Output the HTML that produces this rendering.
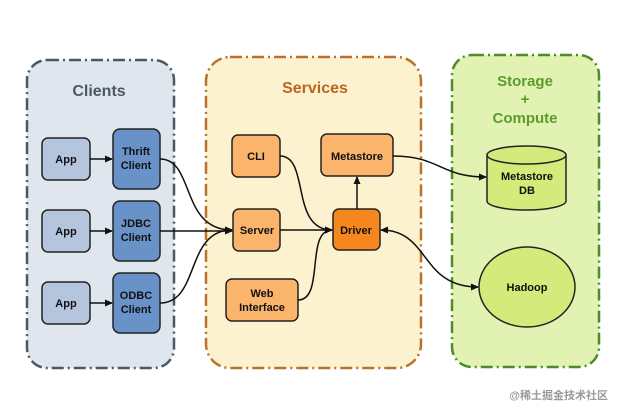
<!DOCTYPE html>
<html><head><style>body{margin:0;background:#fff}svg{display:block}text{font-family:"Liberation Sans","Noto Sans CJK SC",sans-serif;font-weight:bold}</style></head><body>
<svg width="621" height="414" viewBox="0 0 621 414">
<defs><marker id="a" markerWidth="8" markerHeight="8" refX="7" refY="4" orient="auto" markerUnits="userSpaceOnUse"><path d="M0,0.5L8,4L0,7.5z" fill="#111"/></marker>
<marker id="b" markerWidth="8" markerHeight="8" refX="1" refY="4" orient="auto" markerUnits="userSpaceOnUse"><path d="M8,0.5L0,4L8,7.5z" fill="#111"/></marker></defs>
<rect x="27" y="60" width="147" height="308" rx="20" fill="#dfe6ee" stroke="#4b5866" stroke-width="2.5" stroke-dasharray="12,4,2,4"/>
<rect x="206" y="57" width="215" height="311" rx="24" fill="#fdf2d0" stroke="#b8722a" stroke-width="2.5" stroke-dasharray="12,4,2,4"/>
<rect x="452" y="55" width="147" height="312" rx="20" fill="#e2f2b3" stroke="#4e8c2a" stroke-width="2.5" stroke-dasharray="12,4,2,4"/>
<text x="99" y="96" font-size="16" fill="#4b5866" text-anchor="middle">Clients</text>
<text x="315" y="93" font-size="16" fill="#b8661c" text-anchor="middle">Services</text>
<g font-size="15" fill="#5c9c2c" text-anchor="middle"><text x="525" y="86">Storage</text><text x="525" y="104">+</text><text x="525" y="123">Compute</text></g>
<g stroke="#222" stroke-width="1.5">
<rect x="42" y="138" width="48" height="42" rx="6" fill="#b5c5de"/>
<rect x="42" y="210" width="48" height="42" rx="6" fill="#b5c5de"/>
<rect x="42" y="282" width="48" height="42" rx="6" fill="#b5c5de"/>
<rect x="113" y="129" width="47" height="60" rx="7" fill="#6993c8"/>
<rect x="113" y="201" width="47" height="60" rx="7" fill="#6993c8"/>
<rect x="113" y="273" width="47" height="60" rx="7" fill="#6993c8"/>
<rect x="232" y="135" width="48" height="42" rx="6" fill="#fbb46c"/>
<rect x="233" y="209" width="47" height="42" rx="6" fill="#fbb46c"/>
<rect x="226" y="279" width="72" height="42" rx="6" fill="#fbb46c"/>
<rect x="321" y="134" width="72" height="42" rx="6" fill="#fbb46c"/>
<rect x="333" y="209" width="47" height="41" rx="6" fill="#f6871e"/>
<path d="M487,155 V201 A39.5,9 0 0 0 566,201 V155" fill="#d4ea7a"/>
<ellipse cx="526.5" cy="155" rx="39.5" ry="9" fill="#d4ea7a"/>
<ellipse cx="527" cy="287" rx="48" ry="40" fill="#d4ea7a"/>
</g>
<g fill="none" stroke="#111" stroke-width="1.5">
<path d="M90,159H112" marker-end="url(#a)"/>
<path d="M90,231H112" marker-end="url(#a)"/>
<path d="M90,303H112" marker-end="url(#a)"/>
<path d="M160,159C195,159 180,230 232,230" marker-end="url(#a)"/>
<path d="M160,231H232" marker-end="url(#a)"/>
<path d="M160,303C200,303 185,230 232,230" marker-end="url(#a)"/>
<path d="M280,230H332" marker-end="url(#a)"/>
<path d="M280,156C310,156 290,230 332,230" marker-end="url(#a)"/>
<path d="M298,300C325,300 305,230 332,230" marker-end="url(#a)"/>
<path d="M357,209V177" marker-end="url(#a)"/>
<path d="M393,156C440,156 440,177 486,177" marker-end="url(#a)"/>
<path d="M381,230C430,230 420,287 478,287" marker-start="url(#b)" marker-end="url(#a)"/>
</g>
<g font-size="11" fill="#111" text-anchor="middle">
<text x="66" y="163">App</text><text x="66" y="235">App</text><text x="66" y="307">App</text>
<text x="136" y="155">Thrift</text><text x="136" y="169">Client</text>
<text x="136" y="227">JDBC</text><text x="136" y="241">Client</text>
<text x="136" y="299">ODBC</text><text x="136" y="313">Client</text>
<text x="256" y="160">CLI</text><text x="257" y="234">Server</text>
<text x="262" y="297">Web</text><text x="262" y="311">Interface</text>
<text x="357" y="160">Metastore</text><text x="356" y="234">Driver</text>
<text x="527" y="180">Metastore</text><text x="527" y="194">DB</text>
<text x="527" y="291">Hadoop</text>
</g>
<text x="608" y="399" font-size="11" fill="#999" font-weight="normal" text-anchor="end">@稀土掘金技术社区</text>
</svg></body></html>
